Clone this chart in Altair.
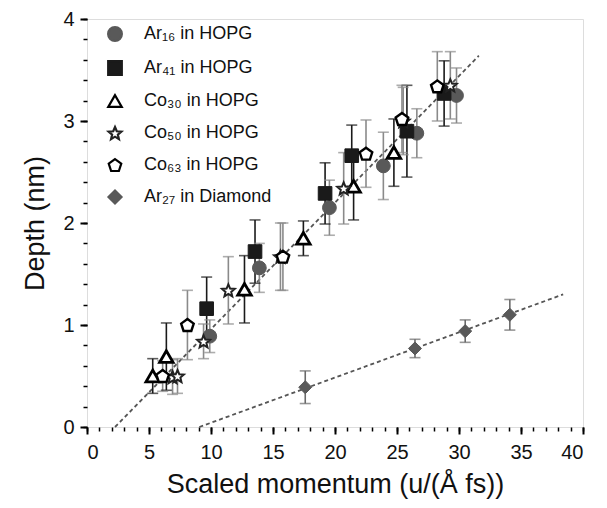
import math
import altair as alt
import pandas as pd

# ---------------- data ----------------
labels = ["Ar₁₆ in HOPG", "Ar₄₁ in HOPG", "Co₃₀ in HOPG",
          "Co₅₀ in HOPG", "Co₆₃ in HOPG", "Ar₂₇ in Diamond"]

ar16_x = [9.9, 13.9, 19.55, 23.9, 26.6, 29.8]
ar16_y = [0.89, 1.56, 2.15, 2.56, 2.88, 3.25]
ar16_e = [0.16, 0.24, 0.27, 0.33, 0.24, 0.27]

ar41_x = [9.65, 13.55, 19.2, 21.35, 25.8, 28.8]
ar41_y = [1.16, 1.72, 2.29, 2.66, 2.90, 3.27]
ar41_e = [0.31, 0.31, 0.30, 0.30, 0.45, 0.32]

co30_x = [5.3, 6.4, 12.7, 17.45, 21.5, 24.75]
co30_y = [0.50, 0.69, 1.35, 1.85, 2.36, 2.69]
co30_e = [0.17, 0.33, 0.33, 0.17, 0.33, 0.33]

co50_x = [6.9, 7.3, 9.4, 11.4, 15.6, 20.7, 25.5, 29.3]
co50_y = [0.49, 0.50, 0.84, 1.34, 1.67, 2.34, 3.00, 3.35]
co50_e = [0.17, 0.17, 0.17, 0.33, 0.33, 0.35, 0.33, 0.33]

co63_x = [6.1, 8.1, 15.8, 22.5, 25.4, 28.25]
co63_y = [0.50, 1.00, 1.67, 2.68, 3.02, 3.34]
co63_e = [0.15, 0.34, 0.33, 0.33, 0.33, 0.34]

ar27_x = [17.6, 26.45, 30.5, 34.1]
ar27_y = [0.39, 0.77, 0.94, 1.10]
ar27_e = [0.16, 0.09, 0.11, 0.15]

# dashed fit lines (end points)
fit_hopg_x = [2.26, 31.6]
fit_hopg_y = [0.0, 3.64]
fit_dia_x = [9.06, 38.4]
fit_dia_y = [0.0, 1.30]

x_major = [0, 5, 10, 15, 20, 25, 30, 35, 40]
y_major = [0, 1, 2, 3, 4]

# ---------------- tables ----------------
series = [
    (labels[0], ar16_x, ar16_y, ar16_e, "#8a8a8a"),
    (labels[1], ar41_x, ar41_y, ar41_e, "#1a1a1a"),
    (labels[2], co30_x, co30_y, co30_e, "#1a1a1a"),
    (labels[3], co50_x, co50_y, co50_e, "#8a8a8a"),
    (labels[4], co63_x, co63_y, co63_e, "#8a8a8a"),
    (labels[5], ar27_x, ar27_y, ar27_e, "#6a6a6a"),
]
rows = []
for i, (name, xs_, ys_, es_, ecol) in enumerate(series):
    for x, y, e in zip(xs_, ys_, es_):
        rows.append({"series": name, "order": i, "x": x, "y": y,
                     "lo": y - e, "hi": y + e, "ecol": ecol})
df = pd.DataFrame(rows)

fits = pd.DataFrame(
    [{"line": "hopg", "x": a, "y": b} for a, b in zip(fit_hopg_x, fit_hopg_y)]
    + [{"line": "dia", "x": a, "y": b} for a, b in zip(fit_dia_x, fit_dia_y)]
)

minor_x = list(range(0, 41))
minor_y = [round(i * 0.2, 1) for i in range(0, 21)]

# ---------------- symbol shapes ----------------
def star_path(r_in=0.45):
    pts = []
    for k in range(10):
        r = 1.0 if k % 2 == 0 else r_in
        a = -math.pi / 2 + k * math.pi / 5
        pts.append((r * math.cos(a), r * math.sin(a) + 0.1))
    return "M" + "L".join(f"{px:.3f},{py:.3f}" for px, py in pts) + "Z"

def pentagon_path():
    pts = []
    for k in range(5):
        a = -math.pi / 2 + k * 2 * math.pi / 5
        pts.append((math.cos(a), math.sin(a) + 0.1))
    return "M" + "L".join(f"{px:.3f},{py:.3f}" for px, py in pts) + "Z"

shape_range = ["circle", "square", "triangle-up", star_path(), pentagon_path(), "diamond"]
fill_range = ["#595959", "#1a1a1a", "white", "white", "white", "#595959"]
stroke_range = ["#595959", "#1a1a1a", "black", "#222222", "black", "#595959"]
size_range = [190, 170, 190, 170, 210, 290]
stroke_widths = [1, 1, 2.8, 2.0, 2.4, 1]

FONT = "Liberation Sans"

xs = alt.Scale(domain=[0, 40], nice=False, zero=False)
ys = alt.Scale(domain=[0, 4], nice=False, zero=False)

legend = alt.Legend(
    title=None, orient="none", legendX=19, legendY=6,
    labelFont=FONT, labelFontSize=18, labelColor="#111",
    rowPadding=10, labelOffset=20, padding=0, symbolStrokeWidth=2.2,
)

main_x_axis = alt.Axis(values=x_major, title="Scaled momentum (u/(Å fs))", orient="bottom",
                       grid=False, tickSize=7, tickWidth=2, tickColor="black",
                       domain=False, labelFont=FONT, labelFontSize=20, labelColor="#111",
                       labelPadding=8, titleFont=FONT, titleFontSize=27,
                       titleFontWeight="normal", titleColor="#111", titlePadding=9)
main_y_axis = alt.Axis(values=y_major, title="Depth (nm)", orient="left",
                       grid=False, tickSize=7, tickWidth=2, tickColor="black",
                       domain=False, labelFont=FONT, labelFontSize=20, labelColor="#111",
                       labelPadding=6, titleFont=FONT, titleFontSize=27,
                       titleFontWeight="normal", titleColor="#111", titlePadding=13)
minor_x_axis = alt.Axis(values=minor_x, title=None, orient="bottom", grid=False,
                        labels=False, domain=False, tickSize=4, tickWidth=1.5,
                        tickColor="black")
minor_y_axis = alt.Axis(values=minor_y, title=None, orient="left", grid=False,
                        labels=False, domain=False, tickSize=4, tickWidth=1.5,
                        tickColor="black")

lines = alt.Chart(fits).mark_line(strokeDash=[4, 3], strokeWidth=1.8, color="#555555").encode(
    x=alt.X("x:Q", scale=xs, axis=minor_x_axis),
    y=alt.Y("y:Q", scale=ys, axis=minor_y_axis),
    detail="line:N",
)

bars = alt.Chart(df).mark_rule(strokeWidth=1.6).encode(
    x=alt.X("x:Q", scale=xs, axis=None),
    y=alt.Y("lo:Q", scale=ys, axis=None),
    y2="hi:Q",
    color=alt.Color("ecol:N", scale=None, legend=None),
)
cap_lo = alt.Chart(df).mark_tick(orient="horizontal", size=11, thickness=1.6).encode(
    x=alt.X("x:Q", scale=xs, axis=None),
    y=alt.Y("lo:Q", scale=ys, axis=None),
    color=alt.Color("ecol:N", scale=None, legend=None),
)
cap_hi = alt.Chart(df).mark_tick(orient="horizontal", size=11, thickness=1.6).encode(
    x=alt.X("x:Q", scale=xs, axis=None),
    y=alt.Y("hi:Q", scale=ys, axis=None),
    color=alt.Color("ecol:N", scale=None, legend=None),
)

def point_layer(name, sw, with_axes):
    return alt.Chart(df).transform_filter(
        alt.datum.series == name
    ).mark_point(filled=False, opacity=1, strokeWidth=sw).encode(
        x=alt.X("x:Q", scale=xs, axis=main_x_axis if with_axes else None),
        y=alt.Y("y:Q", scale=ys, axis=main_y_axis if with_axes else None),
        shape=alt.Shape("series:N", scale=alt.Scale(domain=labels, range=shape_range), legend=legend),
        fill=alt.Fill("series:N", scale=alt.Scale(domain=labels, range=fill_range), legend=legend),
        stroke=alt.Stroke("series:N", scale=alt.Scale(domain=labels, range=stroke_range), legend=legend),
        size=alt.Size("series:N", scale=alt.Scale(domain=labels, range=size_range), legend=legend),
    )

pt_layers = [point_layer(name, sw, i == 0) for i, (name, sw) in enumerate(zip(labels, stroke_widths))]

chart = (
    alt.layer(lines, bars, cap_lo, cap_hi, *pt_layers)
    .resolve_axis(x="independent", y="independent")
    .properties(width=496, height=408,
                autosize=alt.AutoSizeParams(type="none"),
                padding={"left": 79, "top": 11, "right": 12, "bottom": 73})
    .configure_view(stroke="black", strokeWidth=2)
    .configure(background="white")
)

chart.save("out.html", embed_options={"renderer": "svg", "actions": False})
